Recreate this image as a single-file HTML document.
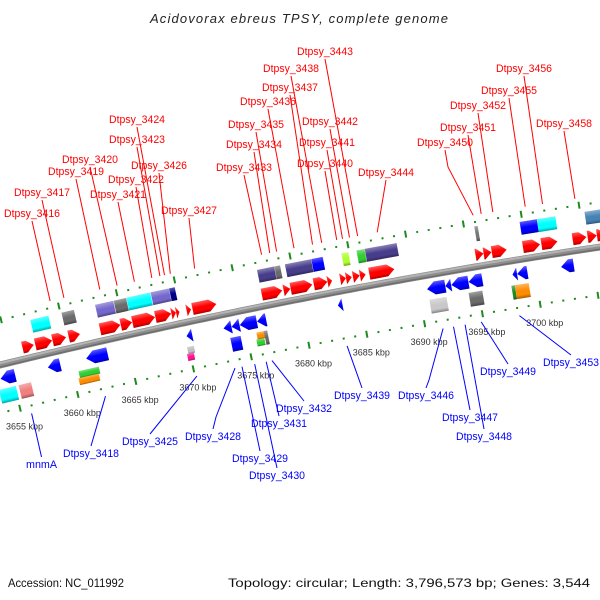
<!DOCTYPE html>
<html><head><meta charset="utf-8">
<style>
html,body{margin:0;padding:0;background:#fff;}
svg{display:block;font-family:"Liberation Sans",sans-serif;}
</style></head>
<body>
<svg id="chart" width="600" height="600" viewBox="0 0 600 600">
<defs>
<linearGradient id="shade" x1="0" y1="0" x2="0" y2="1">
<stop offset="0" stop-color="#fff" stop-opacity="0.35"/>
<stop offset="0.45" stop-color="#fff" stop-opacity="0"/>
<stop offset="0.75" stop-color="#000" stop-opacity="0"/>
<stop offset="1" stop-color="#000" stop-opacity="0.35"/>
</linearGradient>
</defs>
<text x="299" y="23" text-anchor="middle" font-size="13" font-style="italic" fill="#222" textLength="298">Acidovorax ebreus TPSY, complete genome</text>
<g id="scale"></g>
<g id="band"></g>
<g id="genes"></g>
<g id="labels"></g>
<text x="8" y="587" font-size="12" fill="#111" textLength="116" lengthAdjust="spacingAndGlyphs">Accession: NC_011992</text>
<text x="590" y="587" font-size="12" fill="#111" text-anchor="end" textLength="362" lengthAdjust="spacingAndGlyphs">Topology: circular; Length: 3,796,573 bp; Genes: 3,544</text>
</svg>
<script>
// ---- data ----
const fwdArrowStart=[3655.2,3656.3,3657.8,3659.2,3661.9,3663.7,3664.7,3666.7,3668.1,3668.5,3669.4,3669.9,3675.9,3677.8,3678.4,3680.4,3681.6,3682.7,3683.2,3683.8,3684.4,3685.2,3694.4,3695.1,3695.8,3698.5,3700.1,3702.8,3704.1,3704.9];
const fwdArrowEnd  =[3656.2,3657.8,3659.0,3660.2,3663.7,3664.7,3666.7,3668.1,3668.5,3668.8,3669.8,3672.0,3677.7,3678.4,3680.3,3681.6,3682.0,3683.2,3683.7,3684.4,3684.9,3687.4,3695.1,3695.8,3697.1,3700.0,3701.5,3704.0,3704.9,3705.7];
const revArrowStart=[3653.3,3657.4,3660.7,3669.4,3672.6,3673.3,3674.0,3675.5,3682.5,3690.2,3691.8,3692.3,3693.8,3697.6,3698.0,3701.8];
const revArrowEnd  =[3654.6,3658.5,3662.6,3669.9,3673.3,3674.0,3675.5,3676.3,3682.9,3691.8,3692.3,3693.8,3695.0,3698.0,3698.9,3702.9];
const fwdBoxStart=[3656.0,3658.7,3661.6,3663.2,3664.3,3666.4,3668.0,3675.6,3677.1,3678.0,3680.3,3682.9,3684.2,3684.9,3694.4,3698.3,3699.8,3703.9];
const fwdBoxEnd  =[3657.6,3659.8,3663.2,3664.3,3666.4,3668.0,3668.5,3677.1,3677.6,3680.3,3681.3,3683.5,3684.9,3687.7,3694.7,3699.8,3701.4,3705.7];
const fwdBoxColor=["#00ffff","#6b6b6b","#7468cc","#6b6b6b","#00ffff","#7468cc","#00008b","#483d8b","#6b6b6b","#483d8b","#0000ff","#adff2f","#32cd32","#483d8b","#777777","#0000ff","#00ffff","#4682b4"];
const revBoxStart=[3653.3,3655.0,3660.1,3660.1,3669.5,3669.5,3673.3,3675.5,3675.5,3676.2,3690.5,3693.9,3697.6,3697.9];
const revBoxEnd  =[3654.8,3656.1,3661.9,3661.9,3670.1,3670.1,3674.2,3676.2,3676.2,3676.5,3692.0,3695.1,3697.9,3699.1];
const revBoxColor=["#00ffff","#f08080","#32cd32","#ff8c00","#c0c0c0","#ff1493","#0000ff","#ff8c00","#32cd32","#6b6b6b","#c8c8c8","#6b6b6b","#228b22","#ff8c00"];
const revBoxHalf =[0,0,1,2,1,2,0,1,2,0,0,0,0,0];
const kbpTicks=[3655,3660,3665,3670,3675,3680,3685,3690,3695,3700];
const redNames=["Dtpsy_3416","Dtpsy_3417","Dtpsy_3419","Dtpsy_3420","Dtpsy_3421","Dtpsy_3422","Dtpsy_3423","Dtpsy_3424","Dtpsy_3426","Dtpsy_3427","Dtpsy_3433","Dtpsy_3434","Dtpsy_3435","Dtpsy_3436","Dtpsy_3437","Dtpsy_3438","Dtpsy_3440","Dtpsy_3441","Dtpsy_3442","Dtpsy_3443","Dtpsy_3444","Dtpsy_3450","Dtpsy_3451","Dtpsy_3452","Dtpsy_3455","Dtpsy_3456","Dtpsy_3458"];
const redX=[4,14,48,62,90,108,109,109,131,161,216,226,228,240,262,263,297,299,302,297,358,417,440,450,481,496,536];
const redY=[217,196,175,163,198,183,143,123,169,214,171,148,128,105,91,72,167,146,125,55,176,146,131,109,94,72,127];
const redTarget=[3657.6,3658.8,3661.9,3663.4,3664.9,3666.4,3667.1,3667.5,3668.0,3670.1,3675.9,3676.6,3677.2,3678.7,3680.3,3681.1,3682.4,3682.9,3683.5,3684.2,3685.9,3694.2,3694.9,3695.9,3698.7,3700.2,3703.0];
const redBend=[0,0,0,0,0,0,0,0,0,0,0,0,0,0,0,0,0,0,0,0,0,17,0,0,0,0,0];
const blueNames=["mnmA","Dtpsy_3418","Dtpsy_3425","Dtpsy_3428","Dtpsy_3429","Dtpsy_3430","Dtpsy_3431","Dtpsy_3432","Dtpsy_3439","Dtpsy_3446","Dtpsy_3447","Dtpsy_3448","Dtpsy_3449","Dtpsy_3453"];
const blueX=[26,63,122,185,232,249,251,276,334,398,442,456,480,543];
const blueY=[468,457,445,440,462,479,427,412,399,399,421,440,375,366];
const blueTarget=[3656.0,3662.4,3670.3,3673.6,3674.2,3675.3,3676.3,3676.8,3683.3,3691.6,3692.5,3693.5,3694.9,3698.2];
const blueBend=[0,0,0,12,0,0,0,0,0,8,0,0,0,0];

// ---- axis functions ----
const A=0.2433,B=7.78e-5;
function kx(k){return 20+(k-3655)*11.56;}
function arc(x){return 365-A*x+B*x*x;}
function ang(x){return Math.atan(-A+2*B*x)*180/Math.PI;}
const NS="http://www.w3.org/2000/svg";
function mk(tag,attrs,parent){const e=document.createElementNS(NS,tag);for(const k in attrs)e.setAttribute(k,attrs[k]);parent.appendChild(e);return e;}

// ---- band ----
const band=document.getElementById('band');
let pts1=[],pts2=[],pts3=[];
for(let x=-5;x<=605;x+=5){pts1.push(x+','+arc(x).toFixed(2));pts2.push(x+','+(arc(x)-1.8).toFixed(2));pts3.push(x+','+(arc(x)+2.2).toFixed(2));}
let bl=mk('polyline',{points:pts1.join(' '),fill:'none',stroke:'#8e8e8e','stroke-width':7},band);


mk('polyline',{points:pts2.join(' '),fill:'none',stroke:'#b4b4b4','stroke-width':2},band);
mk('polyline',{points:pts3.join(' '),fill:'none',stroke:'#6e6e6e','stroke-width':1.5},band);

// ---- scale ----
const sc=document.getElementById('scale');
for(let k=3652;k<=3706;k++){
  const major=(k%5===0);
  const xl=kx(k), xu=kx(k)-19;
  [[xl,48],[xu,-45]].forEach(([x,off])=>{
    if(x<-3||x>603)return;
    const y=arc(x)+off;
    const r=mk('rect',major?{x:-1,y:-3.5,width:2,height:7,fill:'#1f8a1f'}:{x:-1,y:-1,width:2,height:2,fill:'#1f8a1f'},sc);
    r.setAttribute('transform','translate('+x.toFixed(1)+','+y.toFixed(1)+') rotate('+ang(x).toFixed(1)+')');
    
    
  });
}
kbpTicks.forEach(k=>{
  const x=kx(k);
  const t=mk('text',{x:(x-14).toFixed(1),y:(arc(x)+69.5).toFixed(1),'font-size':9,fill:'#333'},sc);
  t.textContent=k+' kbp';
  
  
});

// ---- genes ----
const gg=document.getElementById('genes');
function shape(w,h,dir){
  const x0=-w/2,x1=w/2,y0=-h/2,y1=h/2;
  if(dir===0)return 'M'+x0+','+y0+'H'+x1+'V'+y1+'H'+x0+'Z';
  const head=Math.min(h*0.6,w);
  if(dir>0)return 'M'+x0+','+y0+'H'+(x1-head)+'L'+x1+',0L'+(x1-head)+','+y1+'H'+x0+'Z';
  return 'M'+x1+','+y0+'H'+(x0+head)+'L'+x0+',0L'+(x0+head)+','+y1+'H'+x1+'Z';
}
function gene(s,e,off,h,dir,color,name){
  const xs=kx(s),xe=kx(e),xc=(xs+xe)/2,w=Math.max(xe-xs,2);
  const g=mk('g',{transform:'translate('+xc.toFixed(1)+','+(arc(xc)+off).toFixed(1)+') rotate('+ang(xc).toFixed(1)+')'},gg);
  
  
  const d=shape(w,h,dir);
  mk('path',{d:d,fill:color},g);
  mk('path',{d:d,fill:'url(#shade)'},g);
}
for(let i=0;i<fwdArrowStart.length;i++)gene(fwdArrowStart[i],fwdArrowEnd[i],-12,12,1,'#ff0000','forward-gene');
for(let i=0;i<revArrowStart.length;i++)gene(revArrowStart[i],revArrowEnd[i],14,13,-1,'#0000ff','reverse-gene');
for(let i=0;i<fwdBoxStart.length;i++)gene(fwdBoxStart[i],fwdBoxEnd[i],fwdBoxStart[i]===3694.4?-33:-31,fwdBoxStart[i]===3694.4?15:13,0,fwdBoxColor[i],'forward-feature');
for(let i=0;i<revBoxStart.length;i++){
  const h=revBoxHalf[i];
  gene(revBoxStart[i],revBoxEnd[i],h===0?32:(h===1?28.5:35.5),h===0?14:7,0,revBoxColor[i],'reverse-feature');
}

// ---- labels ----
const lg=document.getElementById('labels');
function label(name,x,y,tk,bend,color,above){
  const w=name.length===4?31:56;
  const cx=x+w/2;
  const ex=kx(tk), ey=above?arc(ex)-52:arc(ex)+56;
  const sy=above?y+4:y-11;
  let pts=cx+','+sy;
  if(bend)pts+=' '+(cx+3)+','+(above?sy+bend:sy-bend);
  pts+=' '+ex.toFixed(1)+','+ey.toFixed(1);
  const l=mk('polyline',{points:pts,fill:'none',stroke:color,'stroke-width':1},lg);
  
  
  const t=mk('text',{x:x,y:y,'font-size':11,fill:color,textLength:w,lengthAdjust:'spacingAndGlyphs'},lg);
  t.textContent=name;
  
  
}
for(let i=0;i<redNames.length;i++)label(redNames[i],redX[i],redY[i],redTarget[i],redBend[i],'#ff0000',true);
for(let i=0;i<blueNames.length;i++)label(blueNames[i],blueX[i],blueY[i],blueTarget[i],blueBend[i],'#0000ff',false);
</script>
</body></html>
